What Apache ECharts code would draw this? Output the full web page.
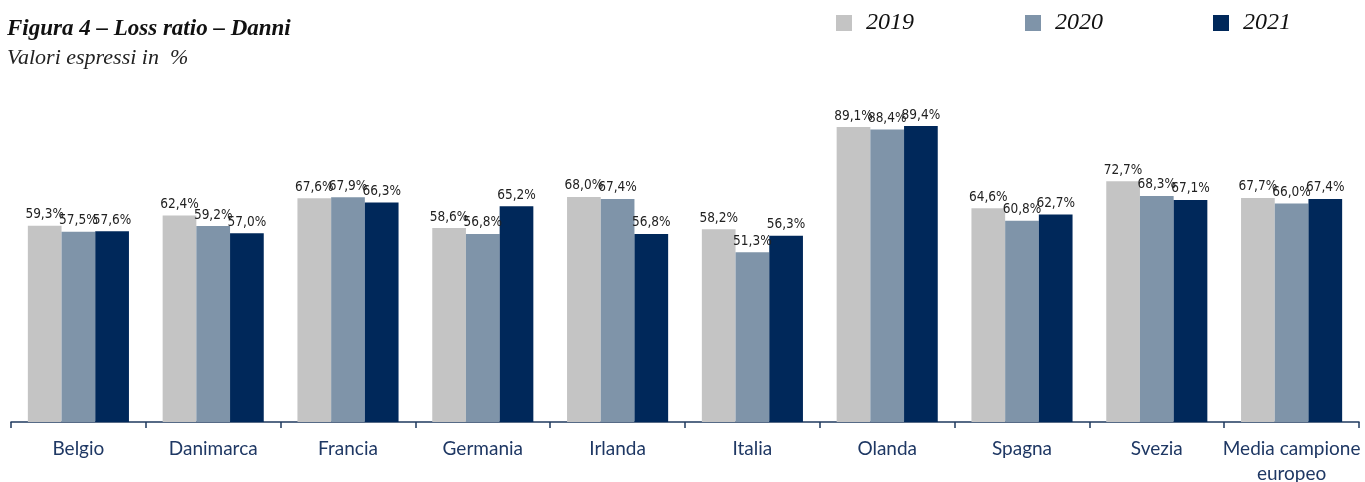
<!DOCTYPE html>
<html>
<head>
<meta charset="utf-8">
<script src="https://cdn.jsdelivr.net/npm/echarts@6/dist/echarts.min.js"></script>
<style>
  html, body { margin: 0; padding: 0; background: #fff; }
  #chart { width: 1365px; height: 482px; }
</style>
</head>
<body>
<div id="chart"></div>
<script>
// Loss ratio, ramo Danni, per paese (valori in %)
const categories = ['Belgio', 'Danimarca', 'Francia', 'Germania', 'Irlanda', 'Italia', 'Olanda', 'Spagna', 'Svezia', 'Media campione\neuropeo'];
const years = ['2019', '2020', '2021'];
const values2019 = [59.3, 62.4, 67.6, 58.6, 68.0, 58.2, 89.1, 64.6, 72.7, 67.7];
const values2020 = [57.5, 59.2, 67.9, 56.8, 67.4, 51.3, 88.4, 60.8, 68.3, 66.0];
const values2021 = [57.6, 57.0, 66.3, 65.2, 56.8, 56.3, 89.4, 62.7, 67.1, 67.4];

const colors = ['#c4c4c4', '#7f94a9', '#00285a'];
const seriesValues = [values2019, values2020, values2021];

const chart = echarts.init(document.getElementById('chart'), null, { renderer: 'canvas' });

const serifItalic = { fontFamily: '"Liberation Serif", "DejaVu Serif", serif', fontStyle: 'italic' };
const legendLefts = [831, 1020, 1208];

chart.setOption({
  animation: false,
  title: [
    {
      text: 'Figura 4 – Loss ratio – Danni',
      left: 2, top: 13,
      padding: 5,
      textStyle: Object.assign({ fontSize: 23, fontWeight: 'bold', color: '#111' }, serifItalic)
    },
    {
      text: 'Valori espressi in  %',
      left: 2, top: 42,
      padding: 5,
      textStyle: Object.assign({ fontSize: 22, fontWeight: 'normal', color: '#222' }, serifItalic)
    }
  ],
  legend: years.map((y, i) => ({
    data: [y],
    left: legendLefts[i], top: 6,
    itemWidth: 16, itemHeight: 16,
    icon: 'rect',
    textStyle: Object.assign({ fontSize: 24, color: '#111', padding: [8, 0, 0, 9] }, serifItalic)
  })),
  grid: { left: 11, right: 6, top: 91, bottom: 60, containLabel: false, outerBoundsMode: 'none' },
  xAxis: {
    type: 'category',
    data: categories,
    axisLine: { lineStyle: { color: '#1f3a5f', width: 1.5 } },
    axisTick: { show: true, interval: 0, length: 6, lineStyle: { color: '#1f3a5f', width: 1.5 } },
    axisLabel: {
      interval: 0,
      margin: 14,
      fontSize: 19,
      lineHeight: 25,
      color: '#1f3864',
      fontFamily: 'Lato, "Open Sans", sans-serif'
    }
  },
  yAxis: {
    type: 'value', min: 0, max: 100,
    show: false, splitLine: { show: false }
  },
  series: years.map((y, i) => ({
    name: y,
    type: 'bar',
    data: seriesValues[i],
    barGap: '0%',
    barCategoryGap: '25%',
    itemStyle: { color: colors[i] },
    label: {
      show: true,
      position: 'top',
      distance: 4,
      fontSize: 13.5,
      color: '#222',
      fontFamily: '"Liberation Sans Narrow", "DejaVu Sans Condensed", sans-serif',
      formatter: p => p.value.toFixed(1).replace('.', ',') + '%'
    }
  }))
});
</script>
</body>
</html>
